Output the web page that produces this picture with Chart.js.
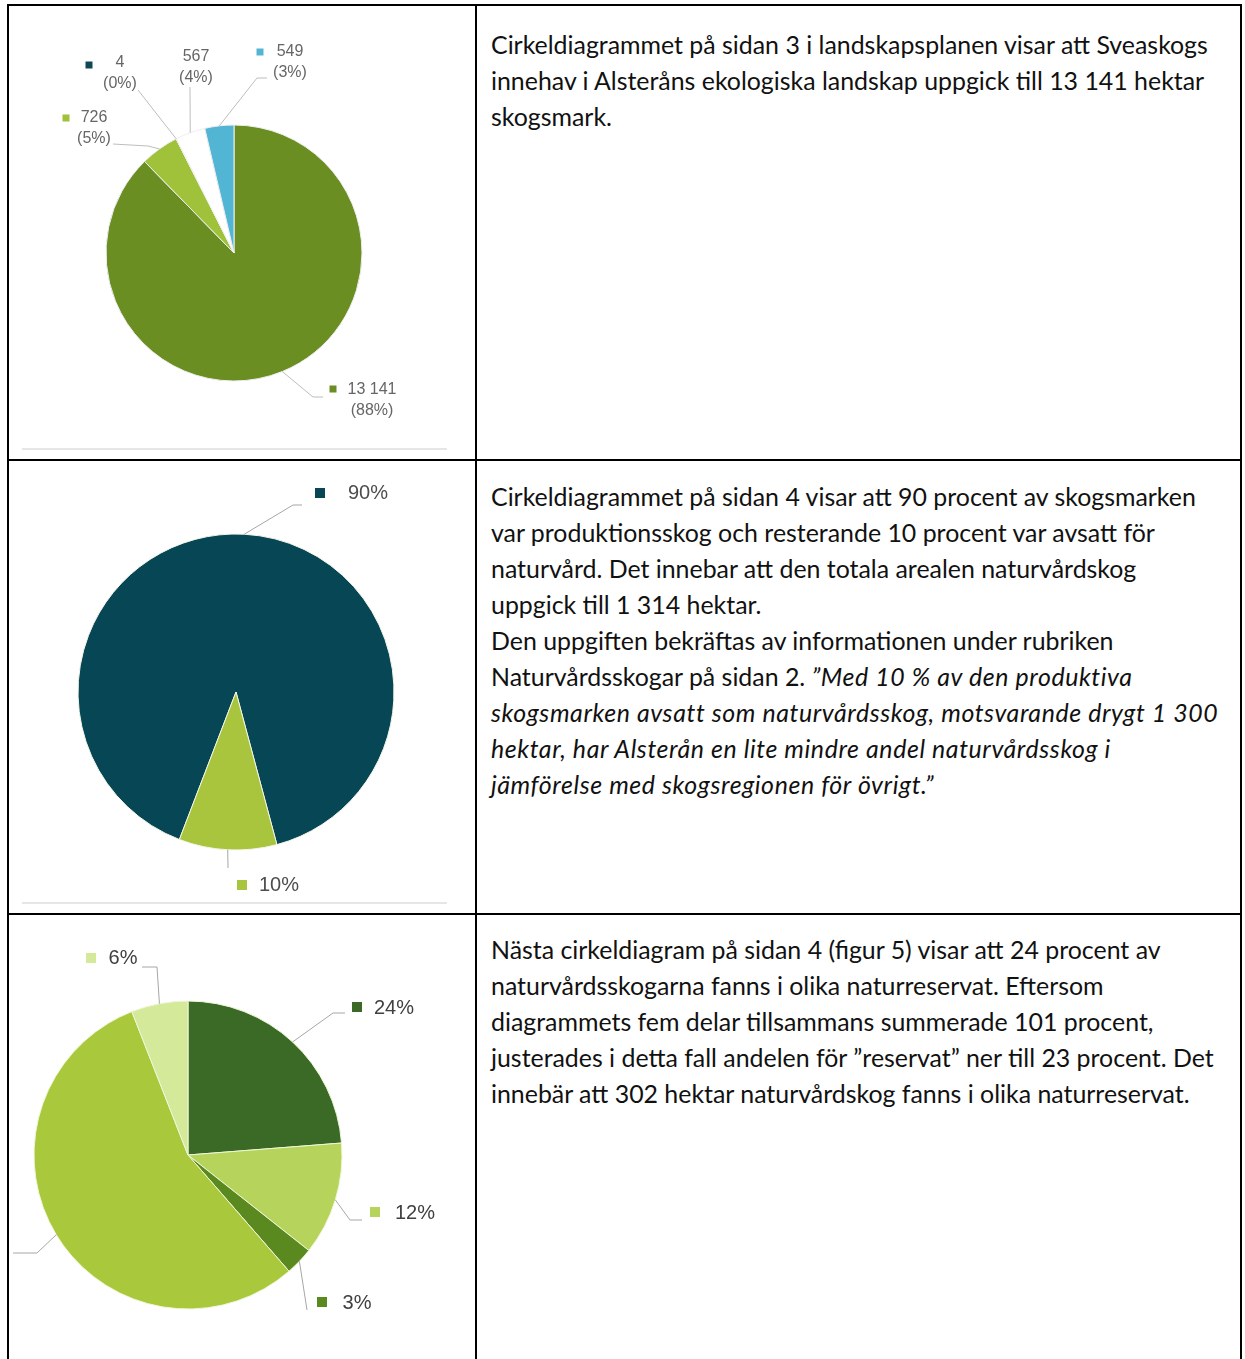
<!DOCTYPE HTML>
<html>
<head>
    <meta charset="utf-8" />
    <title>Cirkeldiagram - Alsterån</title>
    <script src="https://cdn.jsdelivr.net/npm/chart.js@4.4.0/dist/chart.umd.min.js"></script>

    <style type="text/css">
        body {
            margin: 0;
            background: #fff;
        }
        #page {
            position: relative;
            width: 1245px;
            height: 1359px;
            overflow: hidden;
        }
        .rule {
            position: absolute;
            background: #000;
        }
        .imgline {
            position: absolute;
            background: #e6e6e6;
            height: 2px;
        }
        canvas {
            position: absolute;
        }
        .txt {
            position: absolute;
            left: 491px;
            font-family: Lato, "Open Sans", sans-serif;
            font-size: 24.9px;
            line-height: 36px;
            white-space: nowrap;
            color: #111;
        }
        .txt i {
            letter-spacing: 0.6px;
        }
    </style>
</head>

<body>
<div id="page">
    <!-- table borders -->
    <div class="rule" style="left:7px; top:4px; width:1235px; height:2px;"></div>
    <div class="rule" style="left:7px; top:459px; width:1235px; height:2px;"></div>
    <div class="rule" style="left:7px; top:913px; width:1235px; height:2px;"></div>
    <div class="rule" style="left:7px; top:4px; width:2px; height:1360px;"></div>
    <div class="rule" style="left:475px; top:4px; width:2px; height:1360px;"></div>
    <div class="rule" style="left:1240px; top:4px; width:2px; height:1360px;"></div>

    <div class="imgline" style="left:22px; top:448px; width:425px;"></div>
    <div class="imgline" style="left:22px; top:902px; width:425px;"></div>

    <canvas id="pieArea" width="466" height="453" style="left:9px; top:6px;"></canvas>
    <canvas id="pieProd" width="466" height="452" style="left:9px; top:461px;"></canvas>
    <canvas id="pieReserve" width="466" height="444" style="left:9px; top:915px;"></canvas>

    <div class="txt" style="top:26px;">
        Cirkeldiagrammet på sidan 3 i landskapsplanen visar att Sveaskogs<br>
        innehav i Alsteråns ekologiska landskap uppgick till 13 141 hektar<br>
        skogsmark.
    </div>

    <div class="txt" style="top:478px;">
        Cirkeldiagrammet på sidan 4 visar att 90 procent av skogsmarken<br>
        var produktionsskog och resterande 10 procent var avsatt för<br>
        naturvård. Det innebar att den totala arealen naturvårdskog<br>
        uppgick till 1 314 hektar.<br>
        Den uppgiften bekräftas av informationen under rubriken<br>
        Naturvårdsskogar på sidan 2. <i>”Med 10 % av den produktiva<br>
        skogsmarken avsatt som naturvårdsskog, motsvarande drygt 1 300<br>
        hektar, har Alsterån en lite mindre andel naturvårdsskog i<br>
        jämförelse med skogsregionen för övrigt.”</i>
    </div>

    <div class="txt" style="top:931px;">
        Nästa cirkeldiagram på sidan 4 (figur 5) visar att 24 procent av<br>
        naturvårdsskogarna fanns i olika naturreservat. Eftersom<br>
        diagrammets fem delar tillsammans summerade 101 procent,<br>
        justerades i detta fall andelen för ”reservat” ner till 23 procent. Det<br>
        innebär att 302 hektar naturvårdskog fanns i olika naturreservat.
    </div>
</div>

<script>
    // --- data ---

    // chart 1: Sveaskogs innehav (hektar)
    var areaValues = [13141, 726, 4, 567, 549];
    var areaLabels = ['13 141', '726', '4', '567', '549'];
    var areaShares = ['(88%)', '(5%)', '(0%)', '(4%)', '(3%)'];

    // chart 2: produktionsskog / naturvård
    var prodValues = [90, 10];
    var prodLabels = ['90%', '10%'];

    // chart 3: naturvårdsskog fördelning (sums to 101)
    var reserveValues = [24, 12, 3, 56, 6];
    var reserveLabels = ['24%', '12%', '3%', '56%', '6%'];

    // --- styling ---
    var areaColors = ['#6b8e23', '#a0c23b', '#0f4852', '#ffffff', '#52b5d3'];
    var prodColors = ['#064655', '#a9c43d'];
    var reserveColors = ['#3b6a27', '#b6d45c', '#5a8a1f', '#a9c83c', '#d5e99b'];

    // label placement, offsets from the pie centre (leader points, key square, text)
    var areaLabelPos = [
        { leader: [[79, 144], [89, 144]], box: [99, 136], text: [138, 137] },
        { leader: [[-86, -107], [-121, -109]], box: [-168, -135], text: [-140, -135] },
        { leader: [[-96, -163]], box: [-145, -188], text: [-114, -190] },
        { leader: [[-44, -166]], box: null, text: [-38, -196] },
        { leader: [[23, -175], [33, -175]], box: [26, -201], text: [56, -201] }
    ];
    var prodLabelPos = [
        { leader: [[57, -187], [66, -187]], box: [84, -199], text: [132, -199] },
        { leader: [[-8, 176]], box: [6, 193], text: [43, 193] }
    ];
    var reserveLabelPos = [
        { leader: [[145, -142], [157, -142]], box: [169, -148], text: [206, -147] },
        { leader: [[162, 65], [174, 65]], box: [187, 57], text: [227, 58] },
        { leader: [[119, 155]], box: [134, 147], text: [169, 148] },
        { leader: [[-151, 98], [-175, 98]], box: [-215, 98], text: [-250, 98] },
        { leader: [[-31, -188], [-46, -188]], box: [-97, -197], text: [-65, -197] }
    ];

    function makeLabelPlugin(cfg) {
        return {
            id: 'pieLabels',
            afterDatasetsDraw: function (chart) {
                var ctx = chart.ctx;
                var meta = chart.getDatasetMeta(0);
                var colors = chart.data.datasets[0].backgroundColor;
                meta.data.forEach(function (arc, i) {
                    var pos = cfg.positions[i];
                    if (!pos) return;
                    var p = arc.getProps(['x', 'y', 'startAngle', 'endAngle', 'outerRadius'], true);
                    var mid = (p.startAngle + p.endAngle) / 2;
                    var ex = p.x + Math.cos(mid) * p.outerRadius;
                    var ey = p.y + Math.sin(mid) * p.outerRadius;

                    ctx.save();
                    ctx.strokeStyle = cfg.lineColor;
                    ctx.lineWidth = 1;
                    ctx.beginPath();
                    ctx.moveTo(ex, ey);
                    pos.leader.forEach(function (pt) {
                        ctx.lineTo(p.x + pt[0], p.y + pt[1]);
                    });
                    ctx.stroke();

                    if (pos.box) {
                        var s = cfg.boxSize;
                        ctx.fillStyle = colors[i];
                        ctx.fillRect(p.x + pos.box[0] - s / 2, p.y + pos.box[1] - s / 2, s, s);
                    }

                    ctx.fillStyle = cfg.color;
                    ctx.font = cfg.font;
                    ctx.textAlign = 'center';
                    ctx.textBaseline = 'middle';
                    cfg.lines[i].forEach(function (t, k) {
                        ctx.fillText(t, p.x + pos.text[0], p.y + pos.text[1] + k * cfg.lineHeight);
                    });
                    ctx.restore();
                });
            }
        };
    }

    // padding so that the pie sits where it does in the original picture
    function padFor(w, h, cx, cy, r) {
        return { left: cx - r, right: w - cx - r, top: cy - r, bottom: h - cy - r };
    }

    function pieOptions(pad, radius, rotation) {
        return {
            responsive: false,
            animation: false,
            rotation: rotation,
            radius: radius,
            layout: { padding: pad },
            plugins: {
                legend: { display: false },
                tooltip: { enabled: false }
            }
        };
    }

    new Chart(document.getElementById('pieArea'), {
        type: 'pie',
        data: {
            labels: areaLabels,
            datasets: [{
                data: areaValues,
                backgroundColor: areaColors,
                borderColor: '#eeeeee',
                borderWidth: 1
            }]
        },
        options: pieOptions(padFor(466, 453, 225, 247, 128), 128, 0),
        plugins: [makeLabelPlugin({
            positions: areaLabelPos,
            lines: areaLabels.map(function (l, i) { return [l, areaShares[i]]; }),
            font: '16px "Liberation Sans", Arial, sans-serif',
            color: '#666666',
            lineColor: '#bdbdbd',
            lineHeight: 21,
            boxSize: 7
        })]
    });

    new Chart(document.getElementById('pieProd'), {
        type: 'pie',
        data: {
            labels: prodLabels,
            datasets: [{
                data: prodValues,
                backgroundColor: prodColors,
                borderColor: '#f2f5e6',
                borderWidth: 1
            }]
        },
        options: pieOptions(padFor(466, 452, 227, 231, 158), 158, 201),
        plugins: [makeLabelPlugin({
            positions: prodLabelPos,
            lines: prodLabels.map(function (l) { return [l]; }),
            font: '20px "Liberation Sans", Arial, sans-serif',
            color: '#4d4d4d',
            lineColor: '#a6a6a6',
            lineHeight: 22,
            boxSize: 10
        })]
    });

    new Chart(document.getElementById('pieReserve'), {
        type: 'pie',
        data: {
            labels: reserveLabels,
            datasets: [{
                data: reserveValues,
                backgroundColor: reserveColors,
                borderColor: '#eef6d6',
                borderWidth: 1
            }]
        },
        options: pieOptions(padFor(466, 444, 179, 240, 154), 154, 0),
        plugins: [makeLabelPlugin({
            positions: reserveLabelPos,
            lines: reserveLabels.map(function (l) { return [l]; }),
            font: '20px "Liberation Sans", Arial, sans-serif',
            color: '#404040',
            lineColor: '#a6a6a6',
            lineHeight: 22,
            boxSize: 10
        })]
    });
</script>
</body>
</html>
